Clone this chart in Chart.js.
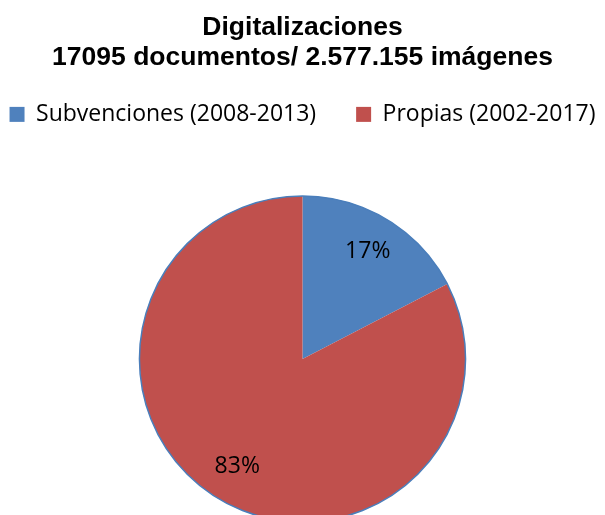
<!DOCTYPE html>
<html>
<head>
<meta charset="utf-8">
<script src="https://cdn.jsdelivr.net/npm/chart.js@4"></script>
<style>
  html, body { margin: 0; padding: 0; background: #fff; overflow: hidden; }
  #wrap { width: 605px; height: 522px; }
</style>
</head>
<body>
<div id="wrap"><canvas id="myChart"></canvas></div>
<script>
// datos
const categorias = ['Subvenciones (2008-2013)', 'Propias (2002-2017)'];
const porcentajes = [17.4, 82.6];
const colores = ['#4F81BD', '#C0504D'];
const tituloLineas = ['Digitalizaciones', '17095 documentos/ 2.577.155 imágenes'];

// leyenda en una sola fila y espacio extra debajo
const espacioLeyenda = {
    id: 'espacioLeyenda',
    beforeInit(chart) {
        const leyenda = chart.legend;
        const fitOriginal = leyenda.fit;
        leyenda.fit = function () {
            const anchoReal = this.maxWidth;
            this.maxWidth = 2000;
            fitOriginal.call(this);
            this.maxWidth = anchoReal;
            this.width = anchoReal;
            this.height += 60;
        };
        const drawOriginal = leyenda.draw;
        leyenda.draw = function () {
            this.left -= 300;
            this.right += 300;
            drawOriginal.call(this);
            this.left += 300;
            this.right -= 300;
        };
    }
};

// etiquetas de porcentaje dentro de cada sector + borde exterior azul
const etiquetasPlugin = {
    id: 'etiquetas',
    afterDatasetsDraw(chart) {
        const ctx = chart.ctx;
        const meta = chart.getDatasetMeta(0);
        const total = porcentajes.reduce((a, b) => a + b, 0);
        const arc0 = meta.data[0];
        ctx.save();
        ctx.beginPath();
        ctx.arc(arc0.x, arc0.y, arc0.outerRadius, 0, Math.PI * 2);
        ctx.strokeStyle = '#4A7EBB';
        ctx.lineWidth = 1.5;
        ctx.stroke();
        ctx.font = '23px "Open Sans"';
        ctx.fillStyle = '#000';
        ctx.textAlign = 'center';
        ctx.textBaseline = 'middle';
        meta.data.forEach((arc, i) => {
            const mid = (arc.startAngle + arc.endAngle) / 2;
            const r = arc.outerRadius * 0.77;
            const txt = Math.round(porcentajes[i] / total * 100) + '%';
            ctx.fillText(txt, arc.x + Math.cos(mid) * r, arc.y + Math.sin(mid) * r);
        });
        ctx.restore();
    }
};

const ctx = document.getElementById('myChart').getContext('2d');
const myChart = new Chart(ctx, {
    type: 'pie',
    data: {
        labels: categorias,
        datasets: [{
            data: porcentajes,
            backgroundColor: colores,
            borderWidth: 0
        }]
    },
    options: {
        responsive: true,
        maintainAspectRatio: false,
        animation: false,
        layout: { padding: 0 },
        plugins: {
            title: {
                display: true,
                text: tituloLineas,
                color: '#000',
                font: { family: '"Liberation Sans", Arial', size: 26.5, weight: 'bold', lineHeight: 1.13 },
                padding: { top: 13, bottom: -10 }
            },
            legend: {
                position: 'top',
                labels: {
                    color: '#000',
                    font: { family: '"Open Sans"', size: 23 },
                    boxWidth: 15,
                    boxHeight: 15,
                    padding: 40
                }
            },
            tooltip: { enabled: false }
        }
    },
    plugins: [espacioLeyenda, etiquetasPlugin]
});
</script>
</body>
</html>
